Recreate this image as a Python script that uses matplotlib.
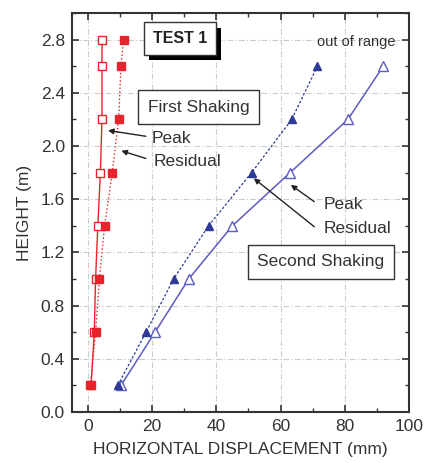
import matplotlib
matplotlib.use("Agg")
import matplotlib.pyplot as plt
import matplotlib.patheffects as pe
from matplotlib.ticker import MultipleLocator

plt.rcParams['font.family'] = ['Liberation Sans', 'DejaVu Sans']

# heights (m)
h_first = [0.2, 0.6, 1.0, 1.4, 1.8, 2.2, 2.6, 2.8]
h_second = [0.2, 0.6, 1.0, 1.4, 1.8, 2.2, 2.6]

# first shaking displacements (mm)
first_peak = [1.0, 2.0, 2.4, 3.1, 3.9, 4.4, 4.4, 4.4]
first_resid = [0.8, 2.4, 3.6, 5.2, 7.6, 9.6, 10.3, 11.1]

# second shaking displacements (mm)
second_peak = [10.3, 20.9, 31.4, 45.0, 63.0, 81.0, 92.0]
second_resid = [9.3, 18.1, 26.7, 37.6, 51.0, 63.5, 71.5]

red = '#e5252b'
blue_line = '#5b5cc2'
blue_dark = '#2d3a96'

fig = plt.figure(figsize=(4.3, 4.63), dpi=100)
ax = fig.add_axes([0.167, 0.110, 0.784, 0.862])

ax.plot(first_peak, h_first, '-', color=red, lw=1.0, marker='s', ms=6,
        mfc='white', mec=red, mew=1.0, zorder=3)
ax.plot(first_resid, h_first, ':', color=red, lw=1.0, marker='s', ms=6,
        mfc=red, mec=red, zorder=3)
ax.plot(second_peak, h_second, '-', color=blue_line, lw=1.1, marker='^', ms=6.5,
        mfc='white', mec=blue_line, mew=1.0, zorder=3)
ax.plot(second_resid, h_second, '--', color=blue_dark, lw=0.9, dashes=(2, 1.5),
        marker='^', ms=6, mfc=blue_dark, mec=blue_dark, zorder=3)

ax.set_xlim(-5, 100)
ax.set_ylim(0, 3.0)
ax.xaxis.set_major_locator(MultipleLocator(20))
ax.xaxis.set_minor_locator(MultipleLocator(10))
ax.yaxis.set_major_locator(MultipleLocator(0.4))
ax.yaxis.set_minor_locator(MultipleLocator(0.2))
ax.set_yticks([0.0, 0.4, 0.8, 1.2, 1.6, 2.0, 2.4, 2.8])
ax.yaxis.set_major_formatter(matplotlib.ticker.FormatStrFormatter('%.1f'))
ax.tick_params(which='both', direction='in', top=True, right=True,
               labelsize=12.5, color='#333333', labelcolor='#333333')
ax.tick_params(which='major', length=5, width=1.2, pad=5)
ax.tick_params(which='minor', length=3, width=1.0)
ax.grid(True, which='major', color='#cccccc', ls=(0, (5, 2, 1, 2)), lw=0.8)
for s in ax.spines.values():
    s.set_linewidth(1.5)
    s.set_color('#333333')

ax.set_xlabel('HORIZONTAL DISPLACEMENT (mm)', fontsize=12.5, color='#333333', labelpad=6)
ax.set_ylabel('HEIGHT (m)', fontsize=12.5, color='#333333', labelpad=6)

box = dict(boxstyle='square,pad=0.55', fc='white', ec='#333333', lw=1.0)
t = ax.text(28.6, 2.81, 'TEST 1', ha='center', va='center', fontsize=11.5,
            color='#222222', fontweight='bold', bbox=box, zorder=5)
t.get_bbox_patch().set_path_effects([pe.withSimplePatchShadow(offset=(4, -4),
                                      shadow_rgbFace='k', alpha=1.0)])
ax.text(34.5, 2.29, 'First Shaking', ha='center', va='center', fontsize=12.5,
        color='#333333', bbox=box, zorder=5)
ax.text(72.5, 1.13, 'Second Shaking', ha='center', va='center', fontsize=12.5,
        color='#333333', bbox=box, zorder=5)
ax.text(83.5, 2.78, 'out of range', ha='center', va='center', fontsize=10.5,
        color='#333333', zorder=5)

arrow = dict(arrowstyle='-|>', color='#222222', lw=1.0, mutation_scale=8)
ax.annotate('', xy=(5.4, 2.12), xytext=(18.9, 2.07), arrowprops=arrow)
ax.annotate('', xy=(9.6, 1.97), xytext=(18.9, 1.90), arrowprops=arrow)
ax.text(19.8, 2.06, 'Peak', ha='left', va='center', fontsize=12.5, color='#333333')
ax.text(20.5, 1.88, 'Residual', ha='left', va='center', fontsize=12.5, color='#333333')

ax.annotate('', xy=(62.5, 1.72), xytext=(71.2, 1.57), arrowprops=arrow)
ax.annotate('', xy=(51.0, 1.77), xytext=(71.2, 1.38), arrowprops=arrow)
ax.text(73.4, 1.56, 'Peak', ha='left', va='center', fontsize=12.5, color='#333333')
ax.text(73.4, 1.38, 'Residual', ha='left', va='center', fontsize=12.5, color='#333333')

fig.savefig('out.png', dpi=100)
